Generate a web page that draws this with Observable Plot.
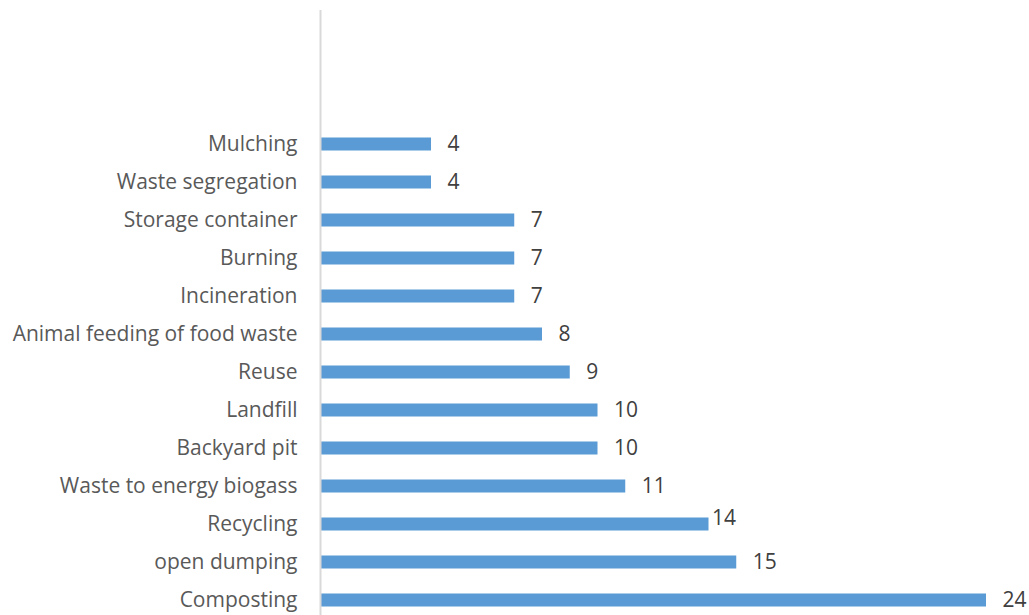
<!DOCTYPE html>
<html>
<head>
<meta charset="utf-8">
<script src="https://cdn.jsdelivr.net/npm/d3@7"></script>
<script src="https://cdn.jsdelivr.net/npm/@observablehq/plot@0.6"></script>
<style>
  html, body { margin: 0; padding: 0; background: #fff; }
  #chart svg { display: block; }
</style>
</head>
<body>
<div id="chart"></div>
<script>
const categories = [
  "Mulching", "Waste segregation", "Storage container", "Burning", "Incineration",
  "Animal feeding of food waste", "Reuse", "Landfill", "Backyard pit",
  "Waste to energy biogass", "Recycling", "open dumping", "Composting"
];
const values = [4, 4, 7, 7, 7, 8, 9, 10, 10, 11, 14, 15, 24];
const emptyRows = ["", " ", "  "];

const data = categories.map((c, i) => ({category: c, value: values[i]}));
const font = "'Open Sans', Lato, sans-serif";

const chart = Plot.plot({
  width: 1029,
  height: 640,
  marginLeft: 320,
  marginRight: 43,
  marginTop: 10,
  marginBottom: 21,
  style: {fontFamily: font, fontSize: "21px", color: "#595959", background: "#fff"},
  x: {domain: [0, 24], axis: null},
  y: {domain: [...emptyRows, ...categories], padding: 0, label: null},
  marks: [
    Plot.barX(data, {y: "category", x: "value", fill: "#5B9BD5", insetTop: 12.5, insetBottom: 12.5, insetLeft: 1}),
    Plot.ruleX([0], {stroke: "#D9D9D9", strokeWidth: 2}),
    Plot.axisY({tickSize: 0, tickPadding: 23, fontSize: 21, fill: "#595959", label: null}),
    Plot.text(data.filter(d => d.category !== "Recycling"), {y: "category", x: "value", text: d => String(d.value), textAnchor: "start", dx: 16, fontSize: 21, fill: "#404040"}),
    Plot.text(data.filter(d => d.category === "Recycling"), {y: "category", x: "value", text: d => String(d.value), textAnchor: "start", dx: 3, dy: -6, fontSize: 21, fill: "#404040"})
  ]
});
document.getElementById("chart").appendChild(chart);
</script>
</body>
</html>
